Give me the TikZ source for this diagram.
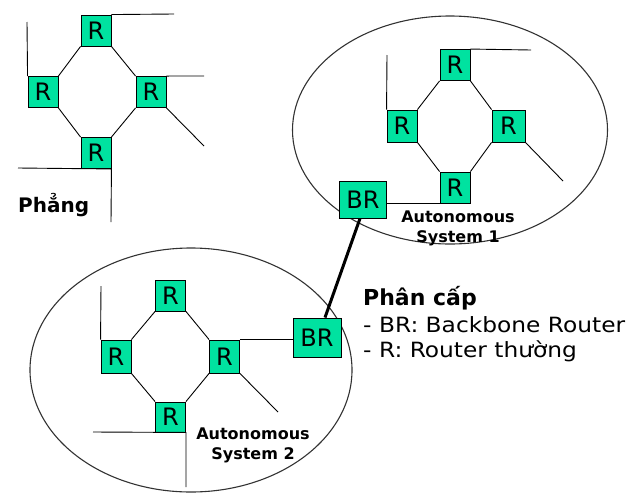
\documentclass[tikz,border=0pt]{standalone}
\usepackage{fontspec}
\setmainfont{DejaVu Sans}
\newfontfamily\widefont[FakeStretch=1.11]{DejaVu Sans}
\definecolor{rgreen}{RGB}{0,226,160}
\definecolor{elgray}{RGB}{50,50,50}
\tikzset{
  rbox/.style={draw=black, line width=0.9pt, fill=rgreen, minimum width=30pt, minimum height=31pt, inner sep=0pt, font=\fontsize{24}{24}\selectfont},
  brbox/.style={rbox, minimum width=47pt, minimum height=38pt},
  wire/.style={draw=black, line width=0.9pt},
  trunk/.style={draw=black, line width=3pt},
  asring/.style={draw=elgray, line width=1.1pt},
  astext/.style={font=\bfseries\fontsize{16}{20}\selectfont, align=center, inner sep=0pt, anchor=north},
  legtext/.style={font=\widefont\fontsize{21}{21}\selectfont, inner sep=0pt, anchor=base west}
}
\begin{document}
\begin{tikzpicture}[x=1pt,y=-1pt]
\useasboundingbox (0,0) rectangle (631,493);
% ellipses
\draw[asring] (450,130) ellipse [x radius=157.5, y radius=114];
\draw[asring] (191,370) ellipse [x radius=161, y radius=122];

% ---------- flat network ----------
\node[rbox] (f1) at (96,30.5) {R};
\node[rbox] (f2) at (43,92) {R};
\node[rbox] (f3) at (151,92) {R};
\node[rbox] (f4) at (96,153) {R};
\coordinate (f1e) at (174,14);
\coordinate (f2e) at (27,22);
\coordinate (f3e) at (204,76);
\coordinate (f3s) at (204,146);
\coordinate (f4w) at (18,168);
\coordinate (f4s) at (111,222);
\draw[wire] (f1.north east) -- (f1e);
\draw[wire] (f2e) -- (f2.north west);
\draw[wire] (f3.north east) -- (f3e);
\draw[wire] (f3.south east) -- (f3s);
\draw[wire] (f4w) -- (f4.south east) -- (f4s);
\draw[wire] (f1.south west) -- (f2.north east);
\draw[wire] (f1.south east) -- (f3.north west);
\draw[wire] (f2.south east) -- (f4.north west);
\draw[wire] (f3.south west) -- (f4.north east);
\node[font=\bfseries\fontsize{20}{20}\selectfont, inner sep=0pt, anchor=base west] (flat) at (18,212) {Phẳng};

% ---------- AS 1 ----------
\node[rbox] (a1) at (455,65) {R};
\node[rbox, minimum height=32pt] (a2) at (402,126) {R};
\node[rbox, minimum width=33pt, minimum height=32pt] (a3) at (508.5,126) {R};
\node[rbox] (a4) at (455,187.5) {R};
\node[brbox, minimum height=37pt] (ab) at (363,199.5) {BR};
\coordinate (a1e) at (531,50);
\coordinate (a2e) at (387,55);
\coordinate (a3s) at (563,181);
\draw[wire] (a1.north east) -- (a1e);
\draw[wire] (a2e) -- (a2.north west);
\draw[wire] (a3.south east) -- (a3s);
\draw[wire] (ab.east |- a4.south west) -- (a4.south west);
\draw[wire] (a1.south west) -- (a2.north east);
\draw[wire] (a1.south east) -- (a3.north west);
\draw[wire] (a2.south east) -- (a4.north west);
\draw[wire] (a3.south west) -- (a4.north east);
\node[astext] (as1) at (458,211) {Autonomous\\System 1};

% ---------- AS 2 ----------
\node[rbox] (b1) at (170.5,295.5) {R};
\node[rbox, minimum height=33pt] (b2) at (116,356.5) {R};
\node[rbox, minimum height=33pt] (b3) at (224.5,356.5) {R};
\node[rbox, minimum height=30pt] (b4) at (170.5,417) {R};
\node[brbox, minimum width=48pt, minimum height=39pt] (bb) at (317,337.5) {BR};
\coordinate (b2e) at (101,286);
\coordinate (b3s) at (278,412);
\coordinate (b4w) at (93,432);
\coordinate (b4s) at (186,487);
\draw[wire] (b2e) -- (b2.north west);
\draw[wire] (b3.north east) -- (bb.west |- b3.north east);
\draw[wire] (b3.south east) -- (b3s);
\draw[wire] (b4w) -- (b4.south east) -- (b4s);
\draw[wire] (b1.south west) -- (b2.north east);
\draw[wire] (b1.south east) -- (b3.north west);
\draw[wire] (b2.south east) -- (b4.north west);
\draw[wire] (b3.south west) -- (b4.north east);
\node[astext] (as2) at (253,428) {Autonomous\\System 2};

% backbone link
\draw[trunk] ([xshift=8pt]bb.north) -- ([xshift=-3pt]ab.south);

% legend
\node[font=\bfseries\fontsize{22}{22}\selectfont, inner sep=0pt, anchor=base west] (lh) at (363,305) {Phân cấp};
\node[legtext] (l1) at (363,332) {- BR: Backbone Router};
\node[legtext] (l2) at (363,357) {- R: Router thường};
\end{tikzpicture}
\end{document}
